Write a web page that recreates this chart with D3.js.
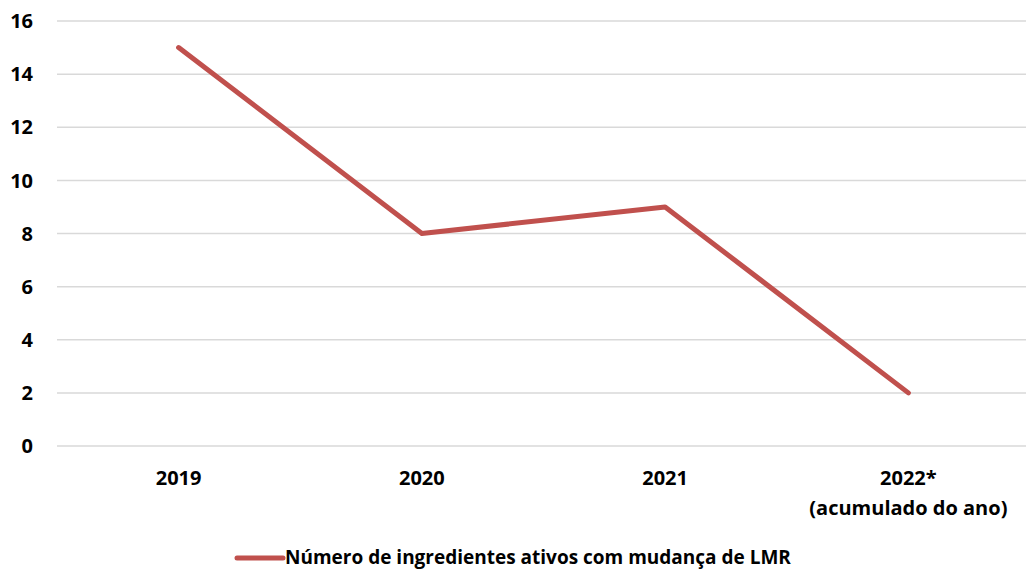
<!DOCTYPE html>
<html>
<head>
<meta charset="utf-8">
<script src="https://cdn.jsdelivr.net/npm/d3@7"></script>
<style>
  body { margin: 0; background: #fff; }
  svg text { font-family: "Open Sans", sans-serif; font-weight: bold; fill: #000; }
</style>
</head>
<body>
<div id="chart"></div>
<script>
const years = ["2019", "2020", "2021", "2022*"];
const yearNotes = ["", "", "", "(acumulado do ano)"];
const counts = [15, 8, 9, 2];
const yTicks = [0, 2, 4, 6, 8, 10, 12, 14, 16];
const seriesName = "Número de ingredientes ativos com mudança de LMR";

const width = 1026, height = 571;
const margin = { top: 21, left: 57, bottom: 125, right: -4 };
const iwidth = width - margin.left - margin.right;
const iheight = height - margin.top - margin.bottom;

const svg = d3.select("#chart").append("svg")
    .attr("width", width)
    .attr("height", height);

const g = svg.append("g").attr("transform", `translate(${margin.left},${margin.top})`);

const x = d3.scalePoint()
    .domain(years)
    .range([0, iwidth])
    .padding(0.5);

const y = d3.scaleLinear()
    .domain([0, 16])
    .range([iheight, 0]);

// gridlines
g.selectAll("line.grid").data(yTicks).enter().append("line")
    .attr("class", "grid")
    .attr("x1", 0).attr("x2", iwidth)
    .attr("y1", d => y(d)).attr("y2", d => y(d))
    .attr("stroke", "#d9d9d9")
    .attr("stroke-width", 1.5);

// y labels
g.selectAll("text.ylab").data(yTicks).enter().append("text")
    .attr("class", "ylab")
    .attr("x", -24)
    .attr("y", d => y(d))
    .attr("dy", "0.36em")
    .attr("text-anchor", "end")
    .style("font-size", "20px")
    .text(d => d);

// x labels
const xl = g.selectAll("text.xlab").data(years).enter().append("text")
    .attr("class", "xlab")
    .attr("x", d => x(d))
    .attr("y", iheight + 39)
    .attr("text-anchor", "middle")
    .style("font-size", "20px");
xl.append("tspan").attr("x", d => x(d)).text(d => d);
xl.append("tspan").attr("x", d => x(d)).attr("dy", 30).text((d, i) => yearNotes[i]);

// line
const line = d3.line()
    .x((d, i) => x(years[i]))
    .y(d => y(d));

g.append("path")
    .datum(counts)
    .attr("fill", "none")
    .attr("stroke", "#c0504d")
    .attr("stroke-width", 5)
    .attr("stroke-linecap", "round")
    .attr("stroke-linejoin", "round")
    .attr("d", line);

// legend
const leg = svg.append("g").attr("transform", "translate(237,558)");
leg.append("line")
    .attr("x1", 0).attr("x2", 46)
    .attr("stroke", "#c0504d")
    .attr("stroke-width", 5)
    .attr("stroke-linecap", "round");
leg.append("text")
    .attr("x", 48)
    .attr("dy", "0.34em")
    .style("font-size", "19px")
    .text(seriesName);
</script>
</body>
</html>
